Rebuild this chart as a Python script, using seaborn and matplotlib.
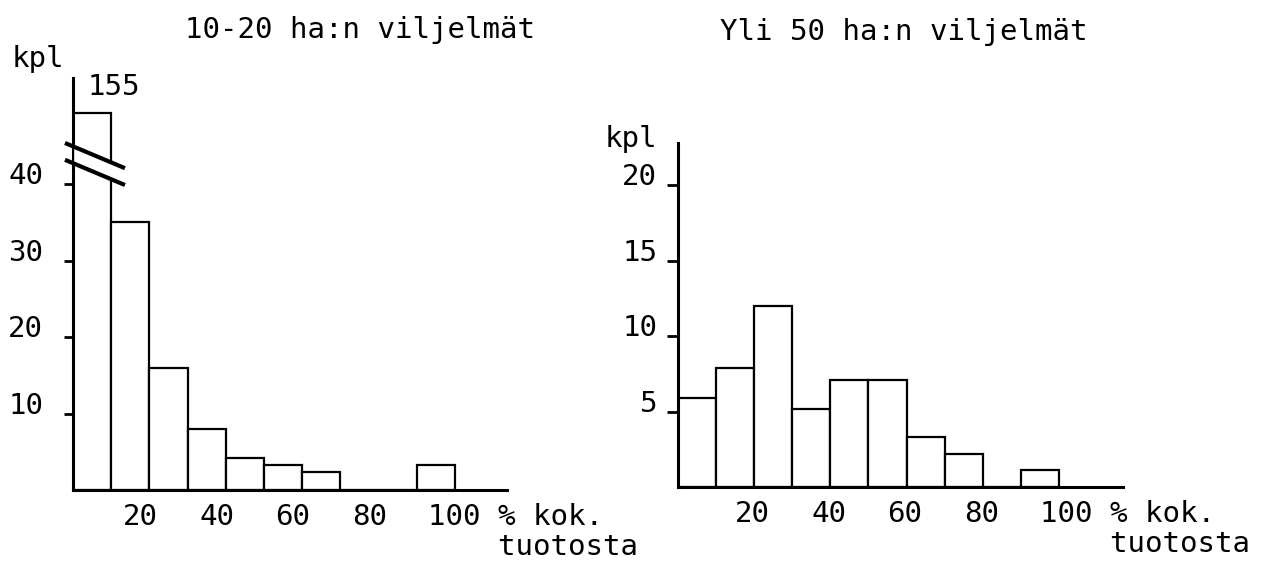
import numpy as np
import seaborn as sns
import matplotlib.pyplot as plt

# Class edges (% of total output) and farm counts per class
bin_edges = [0, 10, 20, 30, 40, 50, 60, 70, 80, 90, 100]
small_farms = [155, 35, 16, 8, 4.2, 3.3, 2.3, 0, 0, 3.3]   # 10-20 ha
large_farms = [5.9, 7.9, 12, 5.2, 7.1, 7.1, 3.3, 2.2, 0, 1.1]   # over 50 ha

x_ticks = [20, 40, 60, 80, 100]
small_yticks = [10, 20, 30, 40]
large_yticks = [5, 10, 15, 20]

title_small = "10-20 ha:n viljelmät"
title_large = "Yli 50 ha:n viljelmät"
y_unit = "kpl"
x_unit = "% kok."
x_unit2 = "tuotosta"

# the first bar of the left chart is drawn cut off at this height
break_height = 49.3

sns.set_style("white")
plt.rcParams['font.family'] = ['DejaVu Sans Mono', 'DejaVu Sans']
plt.rcParams['text.color'] = 'black'
plt.rcParams['xtick.color'] = 'black'
plt.rcParams['ytick.color'] = 'black'
plt.rcParams['xtick.labelcolor'] = 'black'
plt.rcParams['ytick.labelcolor'] = 'black'
FS = 21

fig = plt.figure(figsize=(12.85, 5.64), dpi=100)
ax1 = fig.add_axes([0.0568, 0.1312, 0.3378, 0.7305])
ax2 = fig.add_axes([0.5276, 0.1365, 0.3463, 0.61])

centers = [(a + b) / 2 for a, b in zip(bin_edges[:-1], bin_edges[1:])]
shown_small = [min(v, break_height) for v in small_farms]


def draw_hist(ax, weights, xmax, ymax, yticks, xoff, tick_len, ypad):
    sns.histplot(x=centers, weights=weights, bins=bin_edges, ax=ax,
                 color='white', edgecolor='black', linewidth=1.6, alpha=1)
    ax.set_xlim(0, xmax)
    ax.set_ylim(0, ymax)
    for s in ['top', 'right']:
        ax.spines[s].set_visible(False)
    for s in ['left', 'bottom']:
        ax.spines[s].set_color('black')
        ax.spines[s].set_linewidth(2.2)
    ax.set_xlabel('')
    ax.set_ylabel('')
    ax.set_yticks(yticks)
    ax.set_yticklabels([str(t) for t in yticks], fontsize=FS)
    ax.tick_params(axis='y', direction='out', length=tick_len, width=2,
                   color='black', pad=ypad, left=True)
    for lab in ax.get_yticklabels():
        lab.set_verticalalignment('baseline')
    labels = [str(t) for t in x_ticks]
    labels[-1] = labels[-1] + " " + x_unit + "\n    " + x_unit2
    ax.set_xticks([t - xoff for t in x_ticks])
    ax.set_xticklabels(labels, fontsize=FS, linespacing=1.1)
    ax.tick_params(axis='x', length=0, pad=9)
    for lab in ax.get_xticklabels():
        lab.set_horizontalalignment('left')
        lab.set_multialignment('left')
    ax.grid(False)


draw_hist(ax1, shown_small, 113.6, 53.9, small_yticks, 7, 6.5, 15)
draw_hist(ax2, large_farms, 116.8, 22.8, large_yticks, 5, 8, 7)

# axis break on the first bar
bx = np.array([-2.1, 13.6])
low = np.array([43.2, 39.9])
high = np.array([45.4, 42.1])
ax1.fill([0.5, 13.6, 13.6, 0.5], [high[0] - 0.4, high[1], low[1], low[0] - 0.4],
         color='white', zorder=3, clip_on=False)
ax1.plot(bx, high, color='black', lw=3, zorder=4, clip_on=False,
         solid_capstyle='butt')
ax1.plot(bx, low, color='black', lw=3, zorder=4, clip_on=False,
         solid_capstyle='butt')
ax1.text(bin_edges[0] + 3.7, break_height + 2.4, str(small_farms[0]),
         fontsize=FS, ha='left', va='baseline')

# unit labels and titles
fig.text(0.0093, 0.881, y_unit, fontsize=FS, ha='left', va='baseline')
fig.text(0.4708, 0.740, y_unit, fontsize=FS, ha='left', va='baseline')
fig.text(0.144, 0.933, title_small, fontsize=FS, ha='left', va='baseline')
fig.text(0.5603, 0.929, title_large, fontsize=FS, ha='left', va='baseline')

fig.savefig('out.png', dpi=100, facecolor='white')
